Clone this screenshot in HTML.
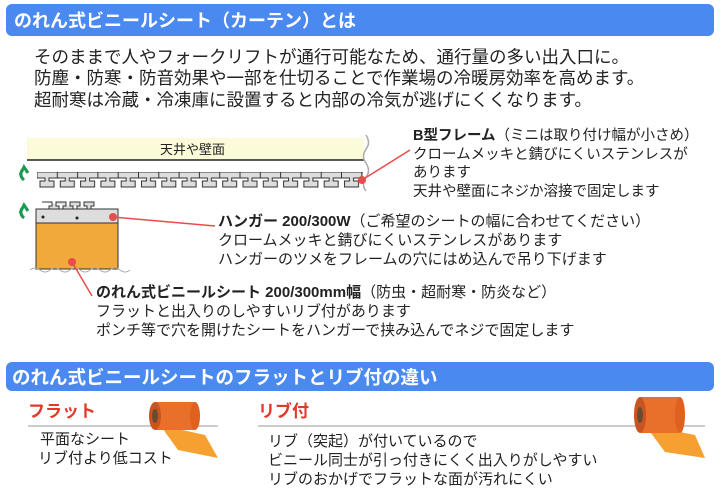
<!DOCTYPE html>
<html><head><meta charset="utf-8"><style>
body{margin:0;width:720px;height:498px;background:#fff;overflow:hidden;font-family:"Liberation Sans","Noto Sans CJK JP",sans-serif;}
svg text{font-family:"Liberation Sans","Noto Sans CJK JP",sans-serif;}
</style></head><body>
<svg width="720" height="498" viewBox="0 0 720 498" xmlns="http://www.w3.org/2000/svg">
<defs>
<pattern id="fr" x="37" y="172" width="20.3" height="16" patternUnits="userSpaceOnUse">
<path d="M0 0H20.3V6H12V9H17V15H3V9H8V6H0Z" fill="#ddd" stroke="#333" stroke-width="1"/>
</pattern>
</defs>
<rect x="6" y="4" width="708" height="32" rx="6" fill="#4a8af0"/>
<text x="14" y="27" font-size="18" font-weight="bold" fill="#fff">のれん式ビニールシート（カーテン）とは</text>
<g font-size="17.5" fill="#222">
<text x="34" y="63">そのままで人やフォークリフトが通行可能なため、通行量の多い出入口に。</text>
<text x="34" y="84">防塵・防寒・防音効果や一部を仕切ることで作業場の冷暖房効率を高めます。</text>
<text x="34" y="106">超耐寒は冷蔵・冷凍庫に設置すると内部の冷気が逃げにくくなります。</text>
</g>
<rect x="27" y="138" width="337" height="22" fill="#fcfbd9"/>
<line x1="27" y1="160" x2="364" y2="160" stroke="#222" stroke-width="1.5"/>
<text x="160" y="154" font-size="13" fill="#222">天井や壁面</text>
<path d="M366 135q5 8 0 14q-5 8 0 14q5 8 0 14q-5 8 0 14" stroke="#aaa" fill="none" stroke-width="1.5"/>
<rect x="37" y="172" width="326" height="16" fill="url(#fr)"/>
<path d="M20 175l4 -8l4 6M22 170q-3 6 2 10" stroke="#1a9a50" stroke-width="3" fill="none"/>
<path d="M20 213l4 -8l4 6M22 208q-3 6 2 10" stroke="#1a9a50" stroke-width="3" fill="none"/>
<path d="M42 202h10v4h-3v3h10v-3h-3v-4h10v4h-3v3h10v-3h-3v-4h10v4h-3v3h10v-3h-3v-4h10v4h-3v3h4" stroke="#333" fill="#ddd" stroke-width="1"/>
<rect x="36" y="209" width="82" height="14" fill="#ddd" stroke="#333"/>
<circle cx="43" cy="217" r="1.5" fill="#222"/><circle cx="77" cy="218" r="1.5" fill="#222"/>
<rect x="36" y="223" width="82" height="46" fill="#f2a93b" stroke="#333"/>
<path d="M30 270q5 -4 10 0t10 0t10 0t10 0t10 0t10 0t10 0t10 0t10 0t10 0" stroke="#aaa" fill="none"/>
<g stroke="#e84c4c" stroke-width="1.5">
<line x1="362" y1="180" x2="410" y2="150"/>
<line x1="113" y1="217" x2="215" y2="226"/>
<line x1="72" y1="262" x2="92" y2="296"/>
</g>
<g fill="#e84c4c"><circle cx="362" cy="180" r="4"/><circle cx="113" cy="217" r="4"/><circle cx="72" cy="262" r="4"/></g>
<g font-size="14.5" fill="#222">
<text x="413" y="140"><tspan font-weight="bold">B型フレーム</tspan>（ミニは取り付け幅が小さめ）</text>
<text x="413" y="159">クロームメッキと錆びにくいステンレスが</text>
<text x="413" y="177">あります</text>
<text x="413" y="196">天井や壁面にネジか溶接で固定します</text>
</g>
<g font-size="15" fill="#222">
<text x="218" y="226"><tspan font-weight="bold">ハンガー 200/300W</tspan>（ご希望のシートの幅に合わせてください）</text>
<text x="218" y="245">クロームメッキと錆びにくいステンレスがあります</text>
<text x="218" y="264">ハンガーのツメをフレームの穴にはめ込んで吊り下げます</text>
<text x="96" y="297"><tspan font-weight="bold">のれん式ビニールシート 200/300mm幅</tspan>（防虫・超耐寒・防炎など）</text>
<text x="96" y="316">フラットと出入りのしやすいリブ付があります</text>
<text x="96" y="335">ポンチ等で穴を開けたシートをハンガーで挟み込んでネジで固定します</text>
</g>
<rect x="6" y="362" width="708" height="29" rx="6" fill="#4a8af0"/>
<text x="12" y="384" font-size="18.5" font-weight="bold" fill="#fff">のれん式ビニールシートのフラットとリブ付の違い</text>
<text x="28" y="417" font-size="17" font-weight="bold" fill="#e03a2a">フラット</text>
<line x1="28" y1="426" x2="218" y2="426" stroke="#999"/>
<text x="258" y="417" font-size="17" font-weight="bold" fill="#e03a2a">リブ付</text>
<line x1="258" y1="426" x2="705" y2="426" stroke="#999"/>
<g font-size="15" fill="#222">
<text x="40" y="444">平面なシート</text>
<text x="38" y="463">リブ付より低コスト</text>
<text x="268" y="446">リブ（突起）が付いているので</text>
<text x="268" y="465">ビニール同士が引っ付きにくく出入りがしやすい</text>
<text x="268" y="484">リブのおかげでフラットな面が汚れにくい</text>
</g>
<g>
<polygon points="160,425 205,435 218,458 178,450" fill="#f5a030"/>
<rect x="155" y="402" width="40" height="28" fill="#e8702a"/>
<ellipse cx="195" cy="416" rx="5" ry="14" fill="#e06020"/>
<ellipse cx="155" cy="416" rx="6" ry="14" fill="#c85520"/>
<ellipse cx="155" cy="416" rx="3" ry="7" fill="#6b4a30"/>
</g>
<g>
<polygon points="645,425 695,435 705,458 665,452" fill="#f5a030"/>
<rect x="640" y="397" width="40" height="36" fill="#e8702a"/>
<ellipse cx="680" cy="415" rx="5" ry="18" fill="#e06020"/>
<ellipse cx="640" cy="415" rx="6" ry="18" fill="#c85520"/>
<ellipse cx="640" cy="415" rx="3" ry="8" fill="#6b4a30"/>
</g>
</svg>
</body></html>
